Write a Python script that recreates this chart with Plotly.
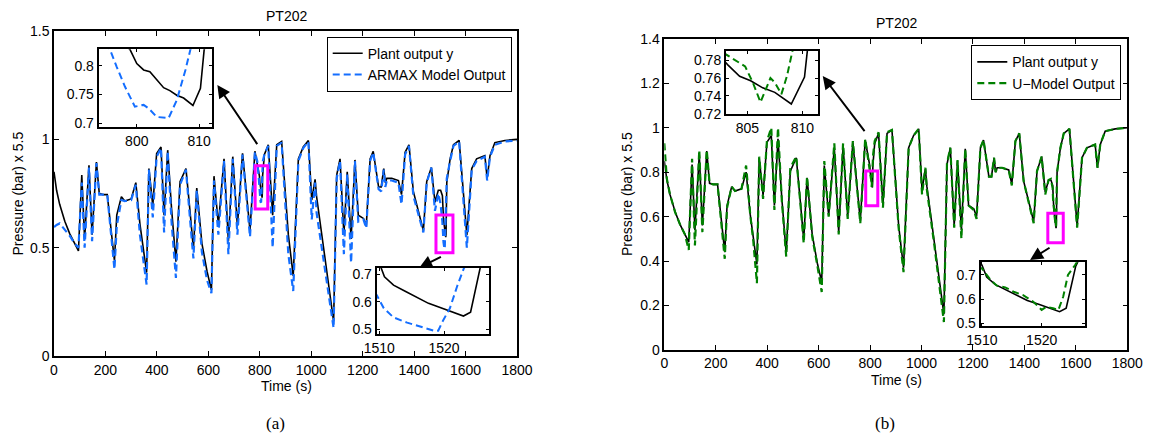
import plotly.graph_objects as go

# ---------------- data ----------------
t_plant = [0, 10, 22, 42, 61, 80, 95, 108, 119, 136, 148, 165, 176, 190, 207, 235, 244, 262, 275, 300,
           318, 334, 346, 360, 369, 384, 399, 416, 428, 442, 457, 474, 490, 513, 529, 542, 555, 575, 595, 612,
           622, 639, 661, 678, 695, 713, 733, 762, 781, 795, 798.9, 800, 801.1, 802.1, 803.2, 804.3, 805.3, 806.4, 807.5, 809,
           810.2, 810.8, 818, 833, 850, 866, 885, 911, 930, 950, 969, 989, 1002, 1015, 1021, 1050, 1087, 1099, 1112, 1127,
           1140, 1155, 1170, 1183, 1203, 1214, 1229, 1241, 1262, 1272, 1282, 1288, 1294, 1313, 1339, 1351, 1365, 1380, 1397, 1436,
           1449, 1467, 1481, 1494, 1503, 1510, 1510.8, 1512.2, 1514, 1515.8, 1517.6, 1519.5, 1521.3, 1523, 1524.1, 1524.9, 1525.7, 1527, 1540, 1553,
           1575, 1605, 1624, 1643, 1675, 1684, 1695, 1714, 1753, 1800]
plant = [0.85, 0.765, 0.70, 0.622, 0.565, 0.52, 0.485, 0.835, 0.54, 0.88, 0.56, 0.895, 0.75, 0.745, 0.745, 0.44, 0.65, 0.735, 0.715, 0.725,
         0.80, 0.61, 0.50, 0.385, 0.865, 0.695, 0.935, 0.965, 0.65, 0.95, 0.68, 0.435, 0.805, 0.865, 0.665, 0.495, 0.775, 0.52, 0.39, 0.305,
         0.83, 0.605, 0.91, 0.53, 0.92, 0.60, 0.935, 0.58, 0.945, 0.86, 0.829, 0.804, 0.793, 0.79, 0.775, 0.762, 0.757, 0.749, 0.744, 0.731,
         0.761, 0.829, 0.93, 0.975, 0.65, 0.975, 0.99, 0.56, 0.37, 0.91, 0.965, 0.995, 0.72, 0.815, 0.735, 0.48, 0.16, 0.835, 0.91, 0.56,
         0.85, 0.54, 0.905, 0.65, 0.635, 0.60, 0.91, 0.945, 0.78, 0.78, 0.865, 0.80, 0.82, 0.82, 0.81, 0.745, 0.94, 0.975, 0.76, 0.578,
         0.805, 0.87, 0.71, 0.765, 0.765, 0.74, 0.69, 0.66, 0.638, 0.615, 0.594, 0.578, 0.563, 0.548, 0.562, 0.652, 0.735, 0.80, 0.91, 0.975,
         0.995, 0.558, 0.865, 0.91, 0.925, 0.82, 0.925, 0.985, 0.995, 1.0]

t_armax = [0, 10, 22, 42, 61, 80, 95, 108, 119, 136, 148, 165, 176, 190, 207, 235, 244, 262, 275, 300,
           318, 334, 346, 360, 369, 384, 399, 416, 428, 442, 457, 474, 490, 513, 529, 542, 555, 575, 595, 612,
           622, 639, 661, 678, 695, 713, 733, 762, 781, 790, 795.7, 796.8, 798.1, 799.7, 801.1, 801.9, 803.2, 805.1, 806.4, 807.8,
           808.6, 812, 818, 833, 850, 866, 885, 911, 930, 950, 969, 989, 1002, 1015, 1021, 1050, 1087, 1099, 1112, 1127,
           1140, 1155, 1170, 1183, 1203, 1214, 1229, 1241, 1262, 1272, 1282, 1288, 1294, 1313, 1339, 1351, 1365, 1380, 1397, 1436,
           1449, 1467, 1481, 1494, 1503, 1509.6, 1510.7, 1512.2, 1514.3, 1516.3, 1518.6, 1519.1, 1519.9, 1520.9, 1522, 1523.1, 1527, 1540, 1553, 1575,
           1605, 1624, 1643, 1675, 1684, 1695, 1714, 1753, 1800]
armax = [0.595, 0.605, 0.612, 0.585, 0.555, 0.52, 0.50, 0.80, 0.50, 0.87, 0.53, 0.89, 0.745, 0.745, 0.745, 0.40, 0.60, 0.72, 0.715, 0.72,
         0.79, 0.56, 0.45, 0.33, 0.86, 0.64, 0.92, 0.96, 0.57, 0.945, 0.62, 0.36, 0.79, 0.86, 0.63, 0.45, 0.765, 0.48, 0.35, 0.29,
         0.81, 0.56, 0.90, 0.47, 0.91, 0.56, 0.93, 0.55, 0.94, 0.90, 0.829, 0.798, 0.764, 0.729, 0.732, 0.726, 0.711, 0.709, 0.74, 0.793,
         0.829, 0.90, 0.93, 0.97, 0.50, 0.97, 0.985, 0.47, 0.30, 0.90, 0.96, 0.99, 0.63, 0.80, 0.66, 0.42, 0.13, 0.82, 0.90, 0.47,
         0.84, 0.43, 0.90, 0.62, 0.63, 0.59, 0.90, 0.94, 0.77, 0.76, 0.86, 0.78, 0.81, 0.81, 0.80, 0.70, 0.93, 0.97, 0.74, 0.57,
         0.80, 0.87, 0.67, 0.75, 0.70, 0.624, 0.576, 0.543, 0.524, 0.509, 0.494, 0.495, 0.534, 0.576, 0.654, 0.723, 0.82, 0.90, 0.97, 0.99,
         0.50, 0.86, 0.90, 0.92, 0.81, 0.92, 0.975, 0.99, 0.995]

t_umodel = [0, 5, 10, 22, 42, 61, 80, 95, 108, 119, 136, 148, 165, 176, 190, 207, 235, 244, 262, 275,
            300, 318, 334, 346, 360, 369, 384, 399, 416, 428, 442, 457, 474, 490, 513, 529, 542, 555, 575, 595,
            612, 622, 639, 661, 678, 695, 713, 733, 762, 781, 795, 803.1, 804.8, 805.5, 806.2, 806.6, 807.1, 807.5, 808.1, 808.6,
            809.1, 812, 818, 833, 850, 866, 885, 911, 930, 950, 969, 989, 1002, 1015, 1021, 1050, 1087, 1099, 1112, 1127,
            1140, 1155, 1170, 1183, 1203, 1214, 1229, 1241, 1262, 1272, 1282, 1288, 1294, 1313, 1339, 1351, 1365, 1380, 1397, 1436,
            1449, 1467, 1481, 1494, 1503, 1510, 1511.4, 1512.5, 1513.9, 1515.3, 1516.9, 1518.6, 1520, 1520.8, 1521.9, 1522.8, 1523.6, 1524.4, 1525.6, 1527,
            1540, 1553, 1575, 1605, 1624, 1643, 1675, 1684, 1695, 1714, 1753, 1800]
umodel = [0.93, 0.84, 0.77, 0.70, 0.62, 0.565, 0.52, 0.45, 0.86, 0.47, 0.90, 0.53, 0.90, 0.75, 0.745, 0.745, 0.41, 0.64, 0.735, 0.715,
          0.725, 0.83, 0.61, 0.49, 0.30, 0.87, 0.68, 0.94, 1.0, 0.63, 1.0, 0.67, 0.42, 0.82, 0.87, 0.66, 0.48, 0.78, 0.51, 0.38,
          0.26, 0.85, 0.60, 0.93, 0.52, 0.93, 0.59, 0.94, 0.57, 0.95, 0.84, 0.786, 0.773, 0.755, 0.733, 0.745, 0.76, 0.755, 0.742, 0.762,
          0.79, 0.88, 0.94, 0.98, 0.64, 0.98, 0.99, 0.55, 0.35, 0.91, 0.965, 0.995, 0.70, 0.82, 0.72, 0.47, 0.125, 0.84, 0.91, 0.55,
          0.855, 0.50, 0.905, 0.65, 0.63, 0.59, 0.91, 0.945, 0.78, 0.78, 0.865, 0.80, 0.82, 0.82, 0.81, 0.74, 0.94, 0.975, 0.76, 0.57,
          0.805, 0.87, 0.70, 0.765, 0.77, 0.726, 0.68, 0.655, 0.648, 0.63, 0.616, 0.589, 0.555, 0.568, 0.562, 0.555, 0.609, 0.699, 0.74, 0.80,
          0.91, 0.975, 0.995, 0.55, 0.865, 0.91, 0.925, 0.82, 0.925, 0.985, 0.995, 1.0]

assert len(t_plant) == len(plant)
assert len(t_armax) == len(armax)
assert len(t_umodel) == len(umodel)

time_ticks = [0, 200, 400, 600, 800, 1000, 1200, 1400, 1600, 1800]
ticks_a_y = [0, 0.5, 1, 1.5]
ticks_b_y = [0, 0.2, 0.4, 0.6, 0.8, 1, 1.2, 1.4]

# inset windows: (x range, y range, x ticks, y ticks)
inset_a1 = ([793.9, 812.1], [0.694, 0.829], [800, 810], [0.7, 0.75, 0.8])
inset_a2 = ([1509.6, 1526.9], [0.483, 0.723], [1510, 1520], [0.5, 0.6, 0.7])
inset_b1 = ([803.06, 811.4], [0.7195, 0.7905], [805, 810], [0.72, 0.74, 0.76, 0.78])
inset_b2 = ([1509.8, 1527.2], [0.489, 0.751], [1510, 1520], [0.5, 0.6, 0.7])

# magenta zoom boxes on the main axes: x0, x1, y0, y1
box_a1 = [782, 831, 0.678, 0.878]
box_a2 = [1485, 1551, 0.477, 0.651]
box_b1 = [783, 830, 0.649, 0.805]
box_b2 = [1491, 1551, 0.482, 0.615]

# arrows (tail -> head) in main-axis data units
arrow_a1 = [(794, 0.971), (635, 1.251)]
arrow_a2 = [(1510, 0.4615), (1420, 0.4075)]
arrow_b1 = [(783, 0.978), (616, 1.233)]
arrow_b2 = [(1503.5, 0.464), (1422, 0.405)]

# ---------------- layout helpers ----------------
W, H = 1149, 434
def fx(p):
    return p / W
def fy(p):
    return 1 - p / H

BLACK = "black"
BLUE = "rgb(20,110,255)"
GREEN = "rgb(0,128,0)"
MAGENTA = "#ff00ff"
FONT = "Liberation Sans, Arial, Helvetica, sans-serif"
DASH = "7px,4px"

fig = go.Figure()

# main (a)
fig.add_trace(go.Scatter(x=t_plant, y=plant, mode="lines", name="Plant output y",
                         line=dict(color=BLACK, width=1.6), xaxis="x", yaxis="y", legend="legend"))
fig.add_trace(go.Scatter(x=t_armax, y=armax, mode="lines", name="ARMAX Model Output",
                         line=dict(color=BLUE, width=2.2, dash=DASH), xaxis="x", yaxis="y", legend="legend"))
# main (b)
fig.add_trace(go.Scatter(x=t_plant, y=plant, mode="lines", name="Plant output y",
                         line=dict(color=BLACK, width=1.6), xaxis="x2", yaxis="y2", legend="legend2"))
fig.add_trace(go.Scatter(x=t_umodel, y=umodel, mode="lines", name="U\u2212Model Output",
                         line=dict(color=GREEN, width=2.2, dash=DASH), xaxis="x2", yaxis="y2", legend="legend2"))

# insets
inset_specs = [
    ("x3", "y3", t_armax, armax, BLUE),
    ("x4", "y4", t_armax, armax, BLUE),
    ("x5", "y5", t_umodel, umodel, GREEN),
    ("x6", "y6", t_umodel, umodel, GREEN),
]
for xa, ya, tm, vm, col in inset_specs:
    fig.add_trace(go.Scatter(x=t_plant, y=plant, mode="lines", showlegend=False,
                             line=dict(color=BLACK, width=1.6), xaxis=xa, yaxis=ya))
    fig.add_trace(go.Scatter(x=tm, y=vm, mode="lines", showlegend=False,
                             line=dict(color=col, width=2.0, dash=DASH), xaxis=xa, yaxis=ya))

def ax_style(lw=1.5, tl=5):
    return dict(showline=True, linecolor=BLACK, linewidth=lw, mirror="ticks",
                ticks="inside", ticklen=tl, tickcolor=BLACK, tickwidth=1,
                showgrid=False, zeroline=False, automargin=False,
                tickfont=dict(family=FONT, size=14, color=BLACK))

layout = dict(
    width=W, height=H, autosize=False,
    margin=dict(l=0, r=0, t=0, b=0, pad=0, autoexpand=False),
    paper_bgcolor="white", plot_bgcolor="white",
    font=dict(family=FONT, size=14, color=BLACK),
    xaxis=dict(domain=[fx(54), fx(517)], range=[0, 1800], tickvals=time_ticks, anchor="y", **ax_style()),
    yaxis=dict(domain=[fy(356), fy(31)], range=[0, 1.5], tickvals=ticks_a_y, anchor="x", **ax_style()),
    xaxis2=dict(domain=[fx(664.3), fx(1127.3)], range=[0, 1800], tickvals=time_ticks, anchor="y2", **ax_style()),
    yaxis2=dict(domain=[fy(349.8), fy(39)], range=[0, 1.4], tickvals=ticks_b_y, anchor="x2", **ax_style()),
)

inset_domains = [
    ((98.7, 212.3), (49.3, 126.7), inset_a1),
    ((376.7, 488.7), (267.7, 334), inset_a2),
    ((726, 817.7), (50.7, 114.3), inset_b1),
    ((980.7, 1084.7), (262.3, 326), inset_b2),
]
for i, ((x0, x1), (y0, y1), spec) in enumerate(inset_domains):
    n = i + 3
    xr, yr, xt, yt = spec
    layout[f"xaxis{n}"] = dict(domain=[fx(x0), fx(x1)], range=xr, tickvals=xt, anchor=f"y{n}", **ax_style(2, 3))
    layout[f"yaxis{n}"] = dict(domain=[fy(y1), fy(y0)], range=yr, tickvals=yt, anchor=f"x{n}", **ax_style(2, 3))

layout["legend"] = dict(x=fx(511.7), y=fy(36.7), xanchor="right", yanchor="top",
                        bordercolor=BLACK, borderwidth=1, bgcolor="white",
                        font=dict(family=FONT, size=14, color=BLACK), tracegroupgap=0)
layout["legend2"] = dict(x=fx(1121.3), y=fy(45.3), xanchor="right", yanchor="top",
                         bordercolor=BLACK, borderwidth=1, bgcolor="white",
                         font=dict(family=FONT, size=14, color=BLACK), tracegroupgap=0)

shapes = []
for box, xr, yr in [(box_a1, "x", "y"), (box_a2, "x", "y"), (box_b1, "x2", "y2"), (box_b2, "x2", "y2")]:
    shapes.append(dict(type="rect", xref=xr, yref=yr, x0=box[0], x1=box[1], y0=box[2], y1=box[3],
                       line=dict(color=MAGENTA, width=3), fillcolor="rgba(0,0,0,0)"))
layout["shapes"] = shapes

annotations = []
for arr, xr, yr in [(arrow_a1, "x", "y"), (arrow_a2, "x", "y"), (arrow_b1, "x2", "y2"), (arrow_b2, "x2", "y2")]:
    (tx, ty), (hx, hy) = arr
    annotations.append(dict(x=hx, y=hy, ax=tx, ay=ty, xref=xr, yref=yr, axref=xr, ayref=yr,
                            text="", showarrow=True, arrowhead=2, arrowsize=1.3, arrowwidth=2,
                            arrowcolor=BLACK, standoff=0))

def txt(s, x, y, size=14, family=FONT, angle=0):
    return dict(text=s, x=fx(x), y=fy(y), xref="paper", yref="paper", showarrow=False,
                xanchor="center", yanchor="middle", textangle=angle,
                font=dict(family=family, size=size, color=BLACK))

annotations += [
    txt("PT202", 286, 16),
    txt("PT202", 896, 23),
    txt("Pressure (bar) x 5.5", 17.5, 194, angle=-90),
    txt("Pressure (bar) x 5.5", 627.5, 194.5, angle=-90),
    txt("Time (s)", 286, 386),
    txt("Time (s)", 896, 380),
    txt("(a)", 275, 423, size=17, family="Liberation Serif, Times New Roman, serif"),
    txt("(b)", 885, 423, size=17, family="Liberation Serif, Times New Roman, serif"),
]
layout["annotations"] = annotations

fig.update_layout(**layout)
fig.write_html("out.html",
               config={"displayModeBar": False},
               post_script="document.body.style.margin='0px';document.body.style.overflow='hidden';")
